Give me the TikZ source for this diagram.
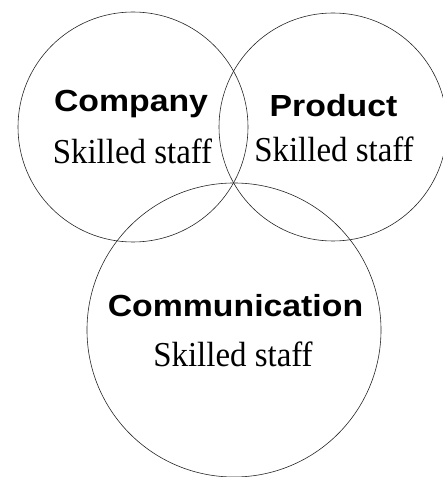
\documentclass[tikz,border=0pt]{standalone}
\usepackage{fontspec}
\setmainfont{Liberation Serif}
\newfontfamily\headfont{Liberation Sans}
\tikzset{
  ring/.style={circle, draw=black!85, line width=0.6pt, inner sep=0pt},
  head/.style={anchor=base, inner sep=0pt, font=\headfont\bfseries\fontsize{30.5}{32}\selectfont},
  sub/.style={anchor=base, inner sep=0pt, font=\fontsize{35}{37}\selectfont}
}
\newcommand{\hx}[1]{\scalebox{1.108}[1]{#1}}
\newcommand{\sx}[1]{\scalebox{0.94}[1]{#1}}
\begin{document}
\begin{tikzpicture}[x=1pt,y=1pt]
\path[use as bounding box] (0,0) rectangle (443,477);
\node[ring, minimum size=230pt] (cl) at (133,350) {};
\node[ring, minimum size=228pt] (cr) at (333,350) {};
\node[ring, minimum size=294pt] (cb) at (234,147) {};
\node[head] (t1) at (131,365.5) {\hx{Company}};
\node[sub] (s1) at (132.5,313) {\sx{Skilled staff}};
\node[head] (t2) at (333.5,360.3) {\hx{Product}};
\node[sub] (s2) at (334,315.3) {\sx{Skilled staff}};
\node[head] (t3) at (235.5,160.3) {\hx{Communication}};
\node[sub] (s3) at (233,110.3) {\sx{Skilled staff}};
\end{tikzpicture}
\end{document}
